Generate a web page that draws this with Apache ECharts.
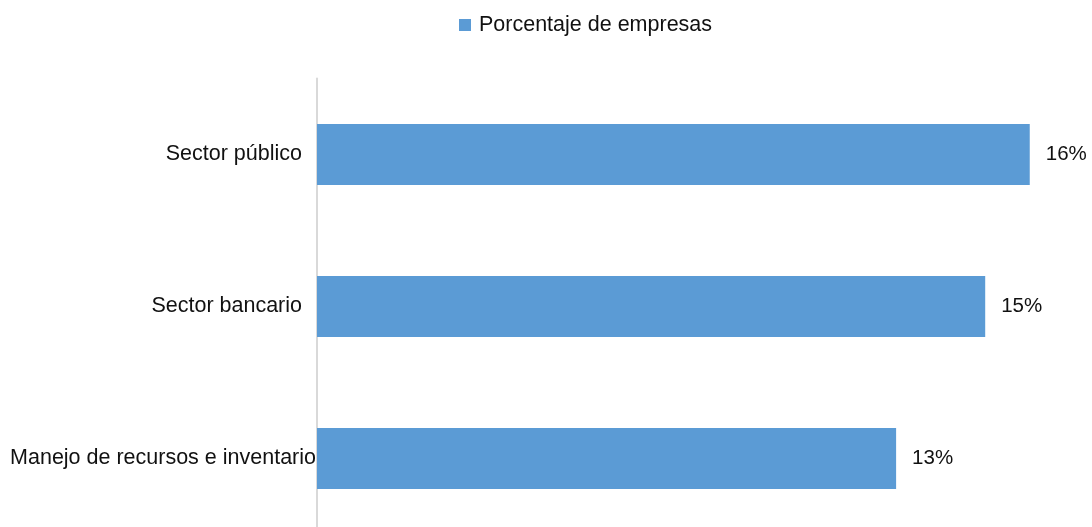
<!DOCTYPE html>
<html>
<head>
<meta charset="utf-8">
<script src="https://cdn.jsdelivr.net/npm/echarts@6/dist/echarts.min.js"></script>
<style>
  html, body { margin: 0; padding: 0; background: #fff; }
  #main { width: 1092px; height: 527px; }
</style>
</head>
<body>
<div id="main"></div>
<script>
// datos
var categorias = ["Sector público", "Sector bancario", "Manejo de recursos e inventario"];
var porcentajes = [16, 15, 13];
var nombreSerie = "Porcentaje de empresas";

var fuente = "'Liberation Sans', Arial, sans-serif";

var chart = echarts.init(document.getElementById("main"));

var option = {
  animation: false,
  textStyle: { fontFamily: fuente },
  legend: {
    left: 454,
    top: 9,
    icon: "rect",
    itemWidth: 12,
    itemHeight: 12,
    textStyle: {
      fontFamily: fuente,
      fontSize: 21.5,
      color: "#111",
      lineHeight: 22,
      padding: [0, 0, 0, 3]
    },
    data: [nombreSerie]
  },
  grid: {
    left: 317,
    right: 17.7,
    top: 78.5,
    height: 456,
    outerBoundsMode: "none"
  },
  xAxis: {
    type: "value",
    min: 0,
    max: 17,
    show: false,
    splitLine: { show: false }
  },
  yAxis: {
    type: "category",
    inverse: true,
    data: categorias,
    axisTick: { show: false },
    axisLine: {
      show: true,
      lineStyle: { color: "#d9d9d9", width: 2 }
    },
    axisLabel: {
      margin: 1,
      fontFamily: fuente,
      fontSize: 21.5,
      color: "#111",
      // etiquetas cortas un poco separadas del eje, la larga pegada
      formatter: function (v) {
        return v.length > 20 ? "{l|" + v + "}" : "{c|" + v + "}";
      },
      rich: {
        c: { fontFamily: fuente, fontSize: 21.5, color: "#111", padding: [0, 14, 0, 0] },
        l: { fontFamily: fuente, fontSize: 21.5, color: "#111" }
      }
    }
  },
  series: [
    {
      name: nombreSerie,
      type: "bar",
      data: porcentajes,
      barWidth: 61,
      itemStyle: { color: "#5b9bd5" },
      label: {
        show: true,
        position: "right",
        distance: 16,
        fontFamily: fuente,
        fontSize: 20.5,
        color: "#111",
        formatter: function (p) { return p.value + "%"; }
      }
    }
  ]
};

chart.setOption(option);
</script>
</body>
</html>
